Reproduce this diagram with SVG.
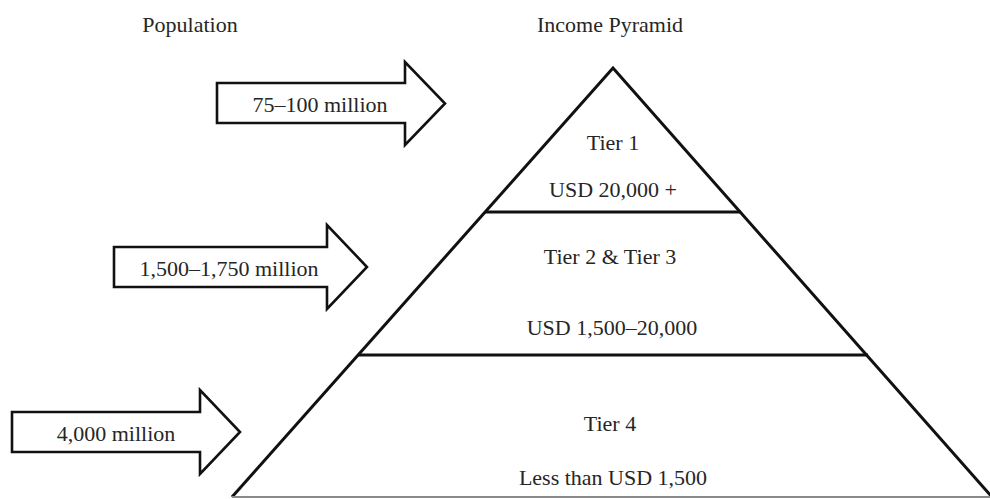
<svg xmlns="http://www.w3.org/2000/svg" width="990" height="499" viewBox="0 0 990 499">
  <style>
    text { font-family: "Liberation Serif", "Times New Roman", serif; font-size: 22px; fill: #262626; text-anchor: middle; }
    .outline { fill: #ffffff; stroke: #111111; stroke-width: 2.6; stroke-linejoin: miter; }
    .divider { stroke: #111111; stroke-width: 3; fill: none; }
    .base { stroke: #8a8a8a; stroke-width: 2; fill: none; }
  </style>
  <rect width="990" height="499" fill="#ffffff"/>

  <!-- column headings -->
  <g id="headings">
    <text x="190" y="32">Population</text>
    <text x="610" y="32">Income Pyramid</text>
  </g>

  <!-- population block arrows -->
  <g id="pop-tier1">
    <polygon class="outline" points="217,83 405,83 405,62 445,103.5 405,145 405,123 217,123"/>
    <text x="320" y="112">75–100 million</text>
  </g>
  <g id="pop-tier23">
    <polygon class="outline" points="114,247 327,247 327,225 367,267 327,309 327,287 114,287"/>
    <text x="229" y="276">1,500–1,750 million</text>
  </g>
  <g id="pop-tier4">
    <polygon class="outline" points="12,412 200,412 200,390 240,432 200,474 200,452 12,452"/>
    <text x="116" y="441">4,000 million</text>
  </g>

  <!-- income pyramid -->
  <g id="pyramid">
    <polyline class="divider" points="232,497 613,68 992,497" stroke-width="2.6"/>
    <line class="base" x1="232" y1="497" x2="990" y2="497"/>
  </g>
  <g id="tier1">
    <line class="divider" x1="485" y1="212" x2="741" y2="212"/>
    <text x="613" y="150">Tier 1</text>
    <text x="613" y="197">USD 20,000 +</text>
  </g>
  <g id="tier23">
    <line class="divider" x1="358" y1="355" x2="868" y2="355"/>
    <text x="610" y="264">Tier 2 &amp; Tier 3</text>
    <text x="612" y="335">USD 1,500–20,000</text>
  </g>
  <g id="tier4">
    <text x="610" y="431">Tier 4</text>
    <text x="613" y="485">Less than USD 1,500</text>
  </g>
</svg>
